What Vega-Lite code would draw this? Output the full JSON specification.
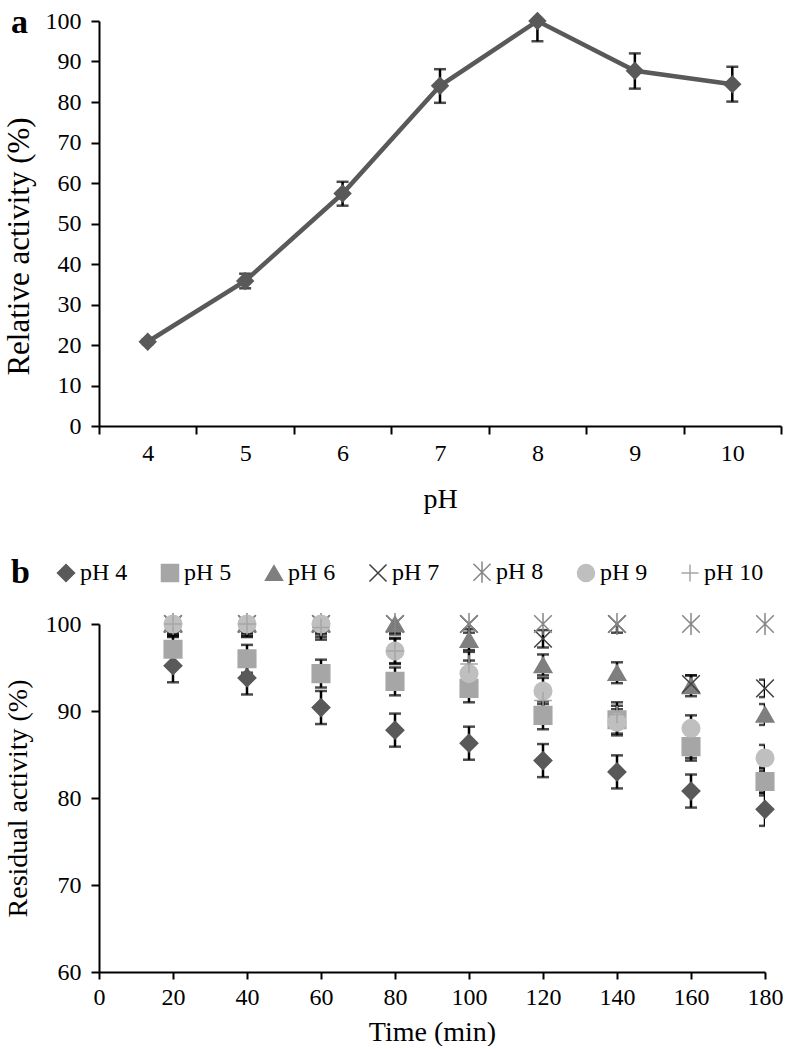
{
  "$schema": "https://vega.github.io/schema/vega-lite/v6.json",
  "padding": {"left": 3, "top": 6, "right": 0, "bottom": 0},
  "spacing": 96,
  "background": "white",
  "config": {
    "font": "Liberation Serif",
    "view": {"stroke": null},
    "axis": {
      "domainColor": "black", "domainWidth": 2, "tickColor": "black", "tickWidth": 2, "tickSize": 8,
      "labelFont": "Liberation Serif", "labelFontSize": 24, "labelColor": "black", "labelFlush": false, "labelOverlap": false,
      "titleFont": "Liberation Serif", "titleFontSize": 28, "titleFontWeight": "normal", "titleColor": "black", "grid": false
    },
    "legend": {
      "labelFont": "Liberation Serif", "titleFont": "Liberation Serif", "labelFontSize": 24, "labelColor": "black", "titleColor": "black"
    }
  },
  "datasets": {
    "a": [
      {"pH": 4, "act": 20.8, "lo": 20.2, "hi": 21.4},
      {"pH": 5, "act": 35.8, "lo": 34.0, "hi": 37.6},
      {"pH": 6, "act": 57.4, "lo": 54.4, "hi": 60.3},
      {"pH": 7, "act": 84.0, "lo": 79.8, "hi": 88.1},
      {"pH": 8, "act": 100.0, "lo": 95.0, "hi": 105.0},
      {"pH": 9, "act": 87.7, "lo": 83.3, "hi": 92.0},
      {"pH": 10, "act": 84.4, "lo": 80.1, "hi": 88.7}
    ],
    "b": [
      {"t": 20, "s": "pH 4", "v": 95.2, "lo": 93.3, "hi": 97.1},
      {"t": 40, "s": "pH 4", "v": 93.8, "lo": 91.9, "hi": 95.7},
      {"t": 60, "s": "pH 4", "v": 90.4, "lo": 88.5, "hi": 92.3},
      {"t": 80, "s": "pH 4", "v": 87.8, "lo": 85.9, "hi": 89.7},
      {"t": 100, "s": "pH 4", "v": 86.3, "lo": 84.4, "hi": 88.2},
      {"t": 120, "s": "pH 4", "v": 84.3, "lo": 82.4, "hi": 86.2},
      {"t": 140, "s": "pH 4", "v": 83.0, "lo": 81.1, "hi": 84.9},
      {"t": 160, "s": "pH 4", "v": 80.8, "lo": 78.9, "hi": 82.7},
      {"t": 180, "s": "pH 4", "v": 78.7, "lo": 76.8, "hi": 80.6},
      {"t": 20, "s": "pH 5", "v": 97.1, "lo": 95.5, "hi": 98.7},
      {"t": 40, "s": "pH 5", "v": 96.0, "lo": 94.4, "hi": 97.6},
      {"t": 60, "s": "pH 5", "v": 94.3, "lo": 92.7, "hi": 95.9},
      {"t": 80, "s": "pH 5", "v": 93.4, "lo": 91.8, "hi": 95.0},
      {"t": 100, "s": "pH 5", "v": 92.6, "lo": 91.0, "hi": 94.2},
      {"t": 120, "s": "pH 5", "v": 89.5, "lo": 87.9, "hi": 91.1},
      {"t": 140, "s": "pH 5", "v": 89.0, "lo": 87.4, "hi": 90.6},
      {"t": 160, "s": "pH 5", "v": 85.9, "lo": 84.3, "hi": 87.5},
      {"t": 180, "s": "pH 5", "v": 81.9, "lo": 80.3, "hi": 83.5},
      {"t": 20, "s": "pH 6", "v": 100, "lo": 98.8, "hi": 101.2},
      {"t": 40, "s": "pH 6", "v": 100, "lo": 98.8, "hi": 101.2},
      {"t": 60, "s": "pH 6", "v": 100, "lo": 98.8, "hi": 101.2},
      {"t": 80, "s": "pH 6", "v": 100, "lo": 98.8, "hi": 101.2},
      {"t": 100, "s": "pH 6", "v": 98.2, "lo": 97.0, "hi": 99.4},
      {"t": 120, "s": "pH 6", "v": 95.3, "lo": 94.1, "hi": 96.5},
      {"t": 140, "s": "pH 6", "v": 94.4, "lo": 93.2, "hi": 95.6},
      {"t": 160, "s": "pH 6", "v": 92.9, "lo": 91.7, "hi": 94.1},
      {"t": 180, "s": "pH 6", "v": 89.6, "lo": 88.4, "hi": 90.8},
      {"t": 20, "s": "pH 7", "v": 100, "lo": 99.0, "hi": 101.0},
      {"t": 40, "s": "pH 7", "v": 100, "lo": 99.0, "hi": 101.0},
      {"t": 60, "s": "pH 7", "v": 100, "lo": 99.0, "hi": 101.0},
      {"t": 80, "s": "pH 7", "v": 100, "lo": 99.0, "hi": 101.0},
      {"t": 100, "s": "pH 7", "v": 100, "lo": 99.0, "hi": 101.0},
      {"t": 120, "s": "pH 7", "v": 98.3, "lo": 97.3, "hi": 99.3},
      {"t": 140, "s": "pH 7", "v": 100, "lo": 99.0, "hi": 101.0},
      {"t": 160, "s": "pH 7", "v": 93.1, "lo": 92.1, "hi": 94.1},
      {"t": 180, "s": "pH 7", "v": 92.6, "lo": 91.6, "hi": 93.6},
      {"t": 20, "s": "pH 8", "v": 100, "lo": null, "hi": null},
      {"t": 40, "s": "pH 8", "v": 100, "lo": null, "hi": null},
      {"t": 60, "s": "pH 8", "v": 100, "lo": null, "hi": null},
      {"t": 80, "s": "pH 8", "v": 100, "lo": null, "hi": null},
      {"t": 100, "s": "pH 8", "v": 100, "lo": null, "hi": null},
      {"t": 120, "s": "pH 8", "v": 100, "lo": null, "hi": null},
      {"t": 140, "s": "pH 8", "v": 100, "lo": null, "hi": null},
      {"t": 160, "s": "pH 8", "v": 100, "lo": null, "hi": null},
      {"t": 180, "s": "pH 8", "v": 100, "lo": null, "hi": null},
      {"t": 20, "s": "pH 9", "v": 100, "lo": 98.5, "hi": 101.5},
      {"t": 40, "s": "pH 9", "v": 100, "lo": 98.5, "hi": 101.5},
      {"t": 60, "s": "pH 9", "v": 100, "lo": 98.5, "hi": 101.5},
      {"t": 80, "s": "pH 9", "v": 96.9, "lo": 95.4, "hi": 98.4},
      {"t": 100, "s": "pH 9", "v": 94.3, "lo": 92.8, "hi": 95.8},
      {"t": 120, "s": "pH 9", "v": 92.3, "lo": 90.8, "hi": 93.8},
      {"t": 140, "s": "pH 9", "v": 88.7, "lo": 87.2, "hi": 90.2},
      {"t": 160, "s": "pH 9", "v": 88.0, "lo": 86.5, "hi": 89.5},
      {"t": 180, "s": "pH 9", "v": 84.6, "lo": 83.1, "hi": 86.1},
      {"t": 20, "s": "pH 10", "v": 100, "lo": 98.6, "hi": 101.4},
      {"t": 40, "s": "pH 10", "v": 100, "lo": 98.6, "hi": 101.4},
      {"t": 60, "s": "pH 10", "v": 99.6, "lo": 98.2, "hi": 101.0},
      {"t": 80, "s": "pH 10", "v": 96.9, "lo": 95.5, "hi": 98.3},
      {"t": 100, "s": "pH 10", "v": 95.4, "lo": 94.0, "hi": 96.8},
      {"t": 120, "s": "pH 10", "v": 91.2, "lo": 89.8, "hi": 92.6},
      {"t": 140, "s": "pH 10", "v": 89.6, "lo": 88.2, "hi": 91.0},
      {"t": 160, "s": "pH 10", "v": 86.0, "lo": 84.6, "hi": 87.4},
      {"t": 180, "s": "pH 10", "v": 82.0, "lo": 80.6, "hi": 83.4}
    ]
  },
  "vconcat": [
    {
      "width": 682,
      "height": 405,
      "title": {"text": "a", "anchor": "start", "frame": "bounds", "orient": "top", "offset": -31, "dx": 8, "fontSize": 34, "fontWeight": "bold", "font": "Liberation Serif", "color": "black"},
      "data": {"name": "a"},
      "encoding": {
        "x": {"field": "pH", "type": "ordinal", "scale": {"type": "band", "paddingInner": 0, "paddingOuter": 0},
              "axis": {"labelAngle": 0, "tickBand": "extent", "title": "pH", "labelPadding": 7, "titlePadding": 20}}
      },
      "layer": [
        {"mark": {"type": "rule", "color": "black", "strokeWidth": 2.5, "clip": true},
         "encoding": {"y": {"field": "lo", "type": "quantitative", "scale": {"domain": [0, 100], "nice": false},
                            "axis": {"values": [0,10,20,30,40,50,60,70,80,90,100], "title": "Relative activity (%)", "labelPadding": 10, "titlePadding": 10, "titleFontSize": 31, "titleY": 225}},
                      "y2": {"field": "hi"}}},
        {"mark": {"type": "tick", "orient": "horizontal", "color": "black", "thickness": 2.5, "size": 12, "clip": true},
         "encoding": {"y": {"field": "lo", "type": "quantitative", "axis": {"values": [0,10,20,30,40,50,60,70,80,90,100], "title": "Relative activity (%)", "labelPadding": 10, "titlePadding": 10, "titleFontSize": 31, "titleY": 225}}}},
        {"mark": {"type": "tick", "orient": "horizontal", "color": "black", "thickness": 2.5, "size": 12, "clip": true},
         "encoding": {"y": {"field": "hi", "type": "quantitative", "axis": {"values": [0,10,20,30,40,50,60,70,80,90,100], "title": "Relative activity (%)", "labelPadding": 10, "titlePadding": 10, "titleFontSize": 31, "titleY": 225}}}},
        {"mark": {"type": "line", "color": "#595959", "strokeWidth": 4.5},
         "encoding": {"y": {"field": "act", "type": "quantitative", "axis": {"values": [0,10,20,30,40,50,60,70,80,90,100], "title": "Relative activity (%)", "labelPadding": 10, "titlePadding": 10, "titleFontSize": 31, "titleY": 225}}}},
        {"mark": {"type": "point", "shape": "diamond", "filled": true, "color": "#595959", "size": 340, "opacity": 1},
         "encoding": {"y": {"field": "act", "type": "quantitative", "axis": {"values": [0,10,20,30,40,50,60,70,80,90,100], "title": "Relative activity (%)", "labelPadding": 10, "titlePadding": 10, "titleFontSize": 31, "titleY": 225}}}}
      ]
    },
    {
      "width": 666,
      "height": 348,
      "data": {"name": "b"},
      "encoding": {
        "x": {"field": "t", "type": "quantitative", "scale": {"domain": [0, 180], "nice": false},
              "axis": {"values": [0,20,40,60,80,100,120,140,160,180], "title": "Time (min)", "tickSize": 7, "labelPadding": 6, "titlePadding": 9}}
      },
      "layer": [
        {"mark": {"type": "rule", "color": "black", "strokeWidth": 2.5, "clip": true},
         "encoding": {"y": {"field": "lo", "type": "quantitative", "scale": {"domain": [60, 100], "nice": false},
                            "axis": {"values": [60,70,80,90,100], "title": "Residual activity (%)", "labelPadding": 10, "titlePadding": 13}},
                      "y2": {"field": "hi"}}},
        {"mark": {"type": "tick", "orient": "horizontal", "color": "black", "thickness": 2.5, "size": 12, "clip": true},
         "encoding": {"y": {"field": "lo", "type": "quantitative", "axis": {"values": [60,70,80,90,100], "title": "Residual activity (%)", "labelPadding": 10, "titlePadding": 13}}}},
        {"mark": {"type": "tick", "orient": "horizontal", "color": "black", "thickness": 2.5, "size": 12, "clip": true},
         "encoding": {"y": {"field": "hi", "type": "quantitative", "axis": {"values": [60,70,80,90,100], "title": "Residual activity (%)", "labelPadding": 10, "titlePadding": 13}}}},
        {"mark": {"type": "point", "filled": true, "opacity": 1, "size": 310, "strokeWidth": 1.5},
         "encoding": {
           "y": {"field": "v", "type": "quantitative", "axis": {"values": [60,70,80,90,100], "title": "Residual activity (%)", "labelPadding": 10, "titlePadding": 13}},
           "shape": {"field": "s", "type": "nominal",
                     "scale": {"domain": ["pH 4","pH 5","pH 6","pH 7","pH 8","pH 9","pH 10"],
                               "range": ["diamond","square","triangle-up","M-1,-1L1,1M-1,1L1,-1","M-1,-1L1,1M-1,1L1,-1M0,-1.25L0,1.25","circle","M-1,0L1,0M0,-1L0,1"]},
                     "legend": {"orient": "none", "legendX": -88, "legendY": 539, "direction": "horizontal", "title": "b", "titleOrient": "left",
                                "titleFontSize": 34, "titleFontWeight": "bold", "titleFont": "Liberation Serif", "titleColor": "black", "titlePadding": 24,
                                "labelFontSize": 24, "labelFont": "Liberation Serif", "labelColor": "black", "labelOffset": 2, "columnPadding": 30,
                                "symbolSize": 290, "symbolStrokeWidth": 1.5, "padding": 0}},
           "fill": {"field": "s", "type": "nominal",
                    "scale": {"domain": ["pH 4","pH 5","pH 6","pH 7","pH 8","pH 9","pH 10"],
                              "range": ["#595959","#A6A6A6","#7F7F7F","#404040","#868686","#BFBFBF","#A6A6A6"]},
                    "legend": {"orient": "none", "legendX": -88, "legendY": 539, "direction": "horizontal", "title": "b", "titleOrient": "left",
                                "titleFontSize": 34, "titleFontWeight": "bold", "titleFont": "Liberation Serif", "titleColor": "black", "titlePadding": 24,
                                "labelFontSize": 24, "labelFont": "Liberation Serif", "labelColor": "black", "labelOffset": 2, "columnPadding": 30,
                                "symbolSize": 290, "symbolStrokeWidth": 1.5, "padding": 0}},
           "stroke": {"field": "s", "type": "nominal",
                      "scale": {"domain": ["pH 4","pH 5","pH 6","pH 7","pH 8","pH 9","pH 10"],
                                "range": ["#595959","#A6A6A6","#7F7F7F","#404040","#868686","#BFBFBF","#A6A6A6"]},
                      "legend": {"orient": "none", "legendX": -88, "legendY": 539, "direction": "horizontal", "title": "b", "titleOrient": "left",
                                "titleFontSize": 34, "titleFontWeight": "bold", "titleFont": "Liberation Serif", "titleColor": "black", "titlePadding": 24,
                                "labelFontSize": 24, "labelFont": "Liberation Serif", "labelColor": "black", "labelOffset": 2, "columnPadding": 30,
                                "symbolSize": 290, "symbolStrokeWidth": 1.5, "padding": 0}}
         }}
      ]
    }
  ]
}
